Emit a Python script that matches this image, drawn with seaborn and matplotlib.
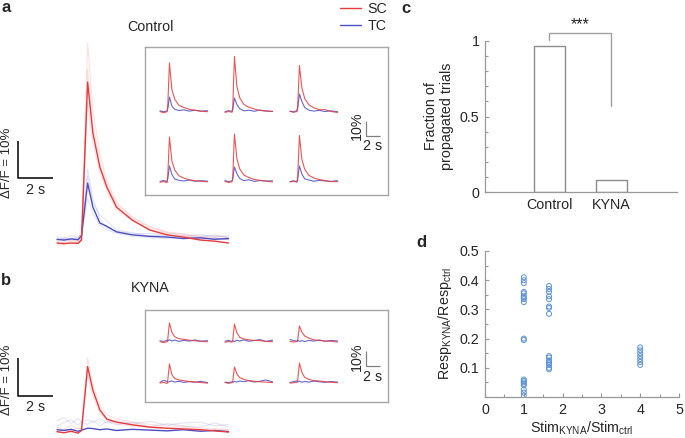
import numpy as np
import matplotlib
matplotlib.use("Agg")
import matplotlib.pyplot as plt
from matplotlib.lines import Line2D
import seaborn as sns

sns.set_style("ticks")
plt.rcParams["font.family"] = ["Liberation Sans", "DejaVu Sans"]
plt.rcParams["mathtext.fontset"] = "custom"
plt.rcParams["mathtext.rm"] = "Liberation Sans"
plt.rcParams["mathtext.it"] = "Liberation Sans"

RED = "#e8393b"
BLUE = "#4a4fc4"
GRAY = "#8c8c8c"
DOT = "#5b93d6"

# ---- averaged traces (time in s, dF/F in %) ----
t_main = [0, 0.4, 0.8, 1.2, 1.4, 1.75, 2.05, 2.45, 2.85, 3.4, 4.3, 5.3, 6.3, 7.2, 8.2, 9.0, 9.8]
ctrl_sc = [0, -0.2, 0, -0.1, 0.8, 43.5, 29.7, 20.5, 15.1, 9.7, 6.2, 3.5, 2.2, 1.6, 0.8, 0.5, 0.0]
ctrl_tc = [1.0, 0.8, 1.1, 0.9, 2.0, 16.2, 9.7, 5.4, 4.5, 3.0, 2.2, 1.8, 1.6, 1.2, 1.4, 1.0, 1.2]
kyna_sc = [0.1, -0.2, 0.2, -0.3, 0.4, 17.2, 11.0, 5.8, 3.4, 2.6, 1.9, 1.3, 1.0, 0.8, 0.6, 0.3, 0.0]
kyna_tc = [0.6, 0.4, 0.7, 0.2, 0.5, 1.0, 0.9, 0.6, 0.8, 0.4, 0.7, 0.5, 0.3, 0.6, 0.2, 0.4, 0.1]

# single trials (faint)
ctrl_sc_trials = [
    [0.5, 0.2, 0.8, 0.3, 1.5, 54, 36, 24, 17, 11, 7, 4.5, 3.0, 2.5, 1.8, 1.0, 1.5],
    [-0.5, 0.3, -0.2, 0.5, 1.0, 47, 32, 22, 16, 10.5, 6.8, 4.2, 2.8, 2.0, 1.2, 1.5, 0.8],
    [0.8, 1.2, 0.4, 1.0, 1.2, 38, 27, 19, 14, 9, 6, 3.8, 2.6, 2.4, 1.5, 2.0, 1.4],
]
ctrl_tc_trials = [
    [1.8, 1.2, 2.0, 1.5, 2.5, 20, 12, 6.5, 4.0, 3.2, 2.5, 2.6, 2.0, 1.8, 2.3, 1.7, 2.0],
    [0.5, 1.5, 0.8, 1.6, 2.2, 18, 11, 7.5, 6, 3.5, 2.8, 1.9, 2.2, 1.4, 1.8, 2.2, 1.5],
    [1.2, 0.6, 1.4, 0.7, 1.8, 12, 8, 4.8, 3.5, 2.6, 1.8, 1.5, 1.2, 1.9, 1.0, 1.4, 0.9],
]
kyna_sc_trials = [
    [1.2, 0.5, 1.8, 0.8, 1.2, 19.5, 12.5, 7, 4.5, 3.5, 2.6, 2.0, 1.6, 1.5, 1.0, 0.9, 0.6],
    [-0.4, 0.8, 0.2, 1.0, 0.9, 15, 9.5, 5, 3, 2.2, 1.5, 1.2, 0.8, 1.2, 0.4, 0.6, 0.5],
]
kyna_tc_trials = [
    [3.0, 3.8, 2.2, 3.5, 2.8, 3.2, 2.5, 3.6, 2.4, 3.0, 2.2, 2.8, 1.8, 2.4, 2.6, 1.6, 2.0],
    [1.5, 2.5, 3.2, 1.8, 2.6, 2.0, 3.0, 1.6, 2.8, 1.9, 2.6, 1.4, 2.2, 1.6, 1.2, 2.4, 1.3],
]

# ---- inset traces, one per cell ----
t_in = [0, 0.5, 1.0, 1.1, 1.35, 1.7, 2.1, 2.7, 3.4, 4.2, 5.0, 5.8, 6.8]
ctrl_in_sc = [
    [0.3, -0.5, 0.2, 3, 32.7, 15, 8.5, 4.5, 3.0, 1.8, 1.2, 0.6, 0.2],
    [-0.3, 0.4, -0.2, 2, 37, 17, 9.5, 5, 3.2, 2.0, 1.0, 0.8, 0.3],
    [0.5, -0.2, 0.3, 4, 31, 16, 9, 4.8, 2.8, 1.5, 1.6, 0.4, -0.3],
    [-0.2, 0.3, -0.4, 3, 30, 14, 8, 4.2, 2.6, 1.4, 0.9, 0.5, 0.1],
    [0.4, -0.3, 0.1, 2.5, 32, 15.5, 8.8, 4.6, 3.0, 1.7, 1.1, 0.7, 0.0],
    [0.0, 0.5, -0.1, 3.5, 31, 15, 8.5, 4.4, 2.7, 1.6, 1.0, 0.3, 0.2],
]
ctrl_in_tc = [
    [0.8, 0.2, 0.6, 2, 10, 4, 1.8, 1.0, 1.4, 0.6, 1.2, 0.5, 0.9],
    [0.2, 0.9, 0.4, 1.5, 9.3, 5, 2.2, 0.8, 1.2, 0.5, 1.3, 0.6, 0.4],
    [0.6, 0.1, 0.9, 2.5, 12, 7, 3, 1.2, 0.6, 1.1, 0.3, 0.8, 0.2],
    [0.4, 1.0, 0.3, 2, 10.7, 5, 2.0, 1.1, 0.7, 1.3, 0.5, 0.9, 0.6],
    [0.9, 0.3, 0.7, 2, 10, 5.5, 2.4, 0.9, 1.5, 0.4, 1.0, 0.6, 0.8],
    [0.3, 0.8, 0.2, 2.2, 10.7, 5.2, 2.1, 1.3, 0.5, 1.1, 0.7, 0.4, 0.9],
]
kyna_in_sc = [
    [0.2, -0.3, 0.1, 1.5, 12.7, 6.5, 3.5, 2.2, 1.8, 1.2, 0.8, 0.5, 0.1],
    [-0.2, 0.3, -0.1, 1.0, 12.0, 6.0, 3.2, 2.0, 1.5, 1.0, 0.9, 0.4, 0.2],
    [0.4, 0.0, 0.3, 1.2, 10.7, 6.5, 4.0, 2.6, 1.4, 1.1, 0.6, 0.5, 0.0],
    [0.0, 0.4, -0.3, 1.5, 12.7, 5.5, 3.0, 2.0, 1.6, 1.0, 0.7, 0.3, -0.1],
    [0.3, -0.2, 0.2, 1.0, 10.7, 6.0, 3.6, 2.4, 1.5, 1.2, 0.8, 0.6, 0.3],
    [-0.1, 0.2, 0.4, 1.8, 13.3, 7.0, 3.8, 2.4, 1.6, 1.3, 0.9, 0.5, 0.2],
]
kyna_in_tc = [
    [0.8, 0.3, 1.2, 0.6, 1.5, 0.7, 1.3, 0.4, 1.1, 0.6, 1.4, 0.5, 0.9],
    [0.5, 1.1, 0.4, 0.9, 0.3, 1.2, 0.6, 1.4, 0.5, 1.0, 1.6, 0.4, 1.2],
    [1.6, 1.0, 0.5, 1.2, 0.4, 0.9, 0.3, 1.1, 0.6, 1.3, 0.5, 1.0, 0.7],
    [0.4, 1.8, 1.0, 0.5, 0.9, 1.4, 0.6, 1.2, 0.4, 0.9, 0.5, 1.1, 0.3],
    [0.6, 0.2, 0.8, 0.4, 1.0, 0.7, 1.3, 0.9, 1.6, 0.6, 1.2, 2.0, 0.8],
    [0.3, 0.9, 1.5, 0.7, 1.2, 0.5, 1.0, 0.6, 1.3, 0.8, 0.4, 1.0, 0.6],
]

# ---- panel c ----
conditions = ["Control", "KYNA"]
fraction = [0.965, 0.08]

# ---- panel d ----
stim_ratio = [1] * 19 + [1.65] * 16 + [4] * 7
resp_ratio = [0.41, 0.40, 0.39, 0.36, 0.355, 0.345, 0.34, 0.335, 0.325, 0.20, 0.195,
              0.06, 0.055, 0.05, 0.045, 0.04, 0.025, 0.015, 0.005,
              0.38, 0.37, 0.36, 0.345, 0.335, 0.31, 0.305, 0.285,
              0.14, 0.135, 0.125, 0.12, 0.115, 0.11, 0.10, 0.095,
              0.17, 0.16, 0.15, 0.14, 0.13, 0.12, 0.11]

W, H = 685, 438
FS = 10.3
fig = plt.figure(figsize=(W / 100, H / 100), dpi=100)


def px_axes(l, t, r, b):
    return fig.add_axes([l / W, 1 - b / H, (r - l) / W, (b - t) / H])


def trace_axes(l, t, r, b, x0, y0, sx, sy):
    # axes whose data origin sits at pixel (x0, y0), sx px per s, sy px per %
    ax = px_axes(l, t, r, b)
    ax.set_xlim((l - x0) / sx, (r - x0) / sx)
    ax.set_ylim((y0 - b) / sy, (y0 - t) / sy)
    ax.axis("off")
    return ax


def line(ax, x, y, color, lw=1.0, alpha=1.0):
    sns.lineplot(x=x, y=y, ax=ax, color=color, lw=lw, alpha=alpha,
                 estimator=None, sort=False, legend=False)


def scalebar(ax, color, lw=1.0):
    ax.plot([0, 0, 2], [10, 0, 0], color=color, lw=lw, clip_on=False,
            solid_capstyle="butt")


# ================= panels a / b =================
for cfg in [
    dict(top=30, bot=252, base=243, sy=3.7, sc=ctrl_sc, tc=ctrl_tc,
         sct=ctrl_sc_trials, tct=ctrl_tc_trials, sb=(178, -3.2, 163),
         frame=(47, 195), rows=(112, 182), insc=ctrl_in_sc, intc=ctrl_in_tc,
         isb=(136, 126, 146), title=("Control", 27), letter=("a", 0)),
    dict(top=330, bot=437, base=432, sy=3.8, sc=kyna_sc, tc=kyna_tc,
         sct=kyna_sc_trials, tct=kyna_tc_trials, sb=(396, -2.9, 380),
         frame=(310, 402), rows=(342, 383), insc=kyna_in_sc, intc=kyna_in_tc,
         isb=(366, 357, 377), title=("KYNA", 288), letter=("b", 273)),
]:
    ax = trace_axes(45, cfg["top"], 240, cfg["bot"], 57, cfg["base"], 17.5, cfg["sy"])
    for tr in cfg["tct"]:
        line(ax, t_main, tr, BLUE, lw=0.8, alpha=0.15)
    for tr in cfg["sct"]:
        line(ax, t_main, tr, RED, lw=0.8, alpha=0.15)
    line(ax, t_main, cfg["tc"], BLUE, lw=1.0)
    line(ax, t_main, cfg["sc"], RED, lw=1.0)

    # main scale bar
    sby, sbtext, sbmid = cfg["sb"]
    sb = trace_axes(0, sby - 60, 60, sby + 20, 18, sby, 17.5, cfg["sy"])
    scalebar(sb, "black", lw=1.1)
    sb.text(1, sbtext, "2 s", ha="center", va="center", fontsize=FS, clip_on=False)
    sb.text(-11 / 17.5, (sby - sbmid) / cfg["sy"], "\u0394F/F = 10%", rotation=90,
            ha="center", va="center", fontsize=9.5, clip_on=False)

    # inset frame
    ft, fb = cfg["frame"]
    fr = px_axes(145, ft, 388, fb)
    fr.set_xticks([])
    fr.set_yticks([])
    fr.patch.set_alpha(0)
    for s in fr.spines.values():
        s.set_color("#a6a6a6")
        s.set_linewidth(1.0)

    k = 0
    for base in cfg["rows"]:
        for cs in [160, 225, 290]:
            ia = trace_axes(cs - 2, base - 62, cs + 52, base + 6, cs, base, 7, 1.5)
            line(ia, t_in, cfg["intc"][k], BLUE, lw=0.8, alpha=0.85)
            line(ia, t_in, cfg["insc"][k], RED, lw=0.8, alpha=0.85)
            k += 1

    iy, itext, i2s = cfg["isb"]
    isb = trace_axes(345, iy - 25, 390, iy + 15, 366, iy, 7, 1.5)
    scalebar(isb, "#808080", lw=0.9)
    isb.text(-9 / 7, (iy - itext) / 1.5, "10%", rotation=90, ha="center",
             va="center", fontsize=FS, clip_on=False)
    isb.text(1, (iy - i2s) / 1.5, "2 s", ha="center", va="center",
             fontsize=FS, clip_on=False)

    fig.text(150 / W, 1 - cfg["title"][1] / H, cfg["title"][0], ha="center",
             va="center", fontsize=FS)
    fig.text(1 / W, 1 - cfg["letter"][1] / H, cfg["letter"][0], ha="left",
             va="top", fontsize=12, fontweight="bold")

fig.legend(handles=[Line2D([], [], color=RED, lw=1), Line2D([], [], color=BLUE, lw=1)],
           labels=["SC", "TC"], loc="upper left", bbox_to_anchor=(340 / W, 1 - 2 / H),
           frameon=False, handlelength=1.5, handletextpad=0.4, labelspacing=0.2,
           borderpad=0, borderaxespad=0, fontsize=FS)

# ================= panel c =================
axc = px_axes(485, 41, 677, 192)
sns.barplot(x=conditions, y=fraction, ax=axc, color="white", edgecolor=GRAY,
            linewidth=1, width=0.5, saturation=1)
axc.set_xlim(-1.04, 2.06)
axc.set_ylim(0, 1)
axc.set_yticks([0, 0.5, 1])
axc.set_yticklabels(["0", "0.5", "1"])
axc.set_yticks(np.arange(0, 1.01, 0.1), minor=True)
axc.set_xlabel("")
axc.set_ylabel("Fraction of\npropagated trials", fontsize=FS, labelpad=4)
axc.plot([0, 0, 1, 1], [1.007, 1.053, 1.053, 0.57], color="#a0a0a0", lw=1, clip_on=False)
axc.text(0.5, 1.11, "***", ha="center", va="center", fontsize=11.5, clip_on=False)
fig.text(401 / W, 1 - 1 / H, "c", ha="left", va="top", fontsize=12, fontweight="bold")

# ================= panel d =================
axd = px_axes(485, 251, 679, 397)
sns.scatterplot(x=stim_ratio, y=resp_ratio, ax=axd, s=13, facecolors="none",
                edgecolor=DOT, linewidth=0.7)
axd.set_xlim(0, 5)
axd.set_ylim(0, 0.5)
axd.set_xticks(range(6))
axd.set_xticks(np.arange(0, 5.01, 0.5), minor=True)
axd.set_yticks([0.1, 0.2, 0.3, 0.4, 0.5])
axd.set_yticks(np.arange(0, 0.51, 0.05), minor=True)
axd.set_xlabel(r"Stim$_{\mathrm{KYNA}}$/Stim$_{\mathrm{ctrl}}$", fontsize=FS, labelpad=2)
axd.set_ylabel(r"Resp$_{\mathrm{KYNA}}$/Resp$_{\mathrm{ctrl}}$", fontsize=FS, labelpad=4)
fig.text(416 / W, 1 - 235 / H, "d", ha="left", va="top", fontsize=12, fontweight="bold")

for ax in (axc, axd):
    sns.despine(ax=ax)
    for s in ("left", "bottom"):
        ax.spines[s].set_color("#999999")
        ax.spines[s].set_linewidth(0.9)
    ax.tick_params(which="both", direction="in", color="#999999", labelsize=FS,
                   pad=4, width=0.8)
    ax.tick_params(which="major", length=3)
    ax.tick_params(which="minor", length=2)

fig.savefig("out.png", dpi=100)
